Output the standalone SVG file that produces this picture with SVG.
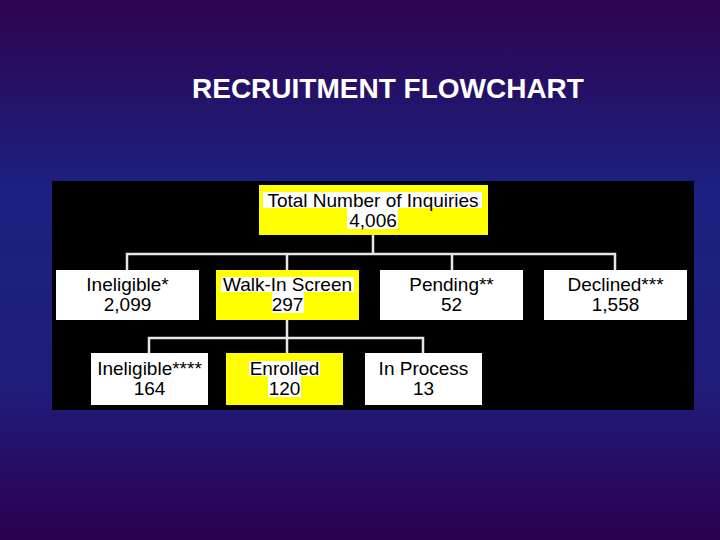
<svg xmlns="http://www.w3.org/2000/svg" width="720" height="540" viewBox="0 0 720 540">
<defs>
<linearGradient id="bg" x1="0" y1="0" x2="0" y2="1">
<stop offset="0" stop-color="#2d0450"/>
<stop offset="0.35" stop-color="#1c2080"/>
<stop offset="0.72" stop-color="#1f1c7a"/>
<stop offset="1" stop-color="#2b0050"/>
</linearGradient>
</defs>
<style>
.box{stroke:none}
.w{fill:#ffffff}
.y{fill:#ffff00}
.hl{fill:#ffffff}
.t{font-family:"Liberation Sans",Arial,sans-serif;font-size:19px;fill:#000000;text-anchor:middle}
.title{font-family:"Liberation Sans",Arial,sans-serif;font-size:28px;font-weight:bold;fill:#ffffff}
.c{stroke:#e6e6e6;stroke-width:2.5;fill:none}
</style>
<rect x="0" y="0" width="720" height="540" fill="url(#bg)"/>
<text class="title" x="192" y="98">RECRUITMENT FLOWCHART</text>
<rect x="52" y="181" width="642" height="229" fill="#000000"/>
<g id="connectors">
<path class="c" d="M373 235 V254 M127 270 V254 H615 V270 M287 254 V270 M452 254 V270"/>
<path class="c" d="M287 320 V338 M149 353 V338 H423 V353 M287 338 V353"/>
</g>
<g id="total">
<rect class="box y" x="259" y="185" width="229" height="50"/>
<rect class="hl" x="263" y="192" width="219" height="16"/>
<rect class="hl" x="347" y="208" width="51" height="21"/>
<text class="t" x="373" y="207">Total Number of Inquiries</text>
<text class="t" x="373" y="227">4,006</text>
</g>
<g id="ineligible1">
<rect class="box w" x="56" y="270" width="143" height="50"/>
<text class="t" x="127.5" y="291">Ineligible*</text>
<text class="t" x="127.5" y="311">2,099</text>
</g>
<g id="walkin">
<rect class="box y" x="216" y="270" width="143" height="50"/>
<rect class="hl" x="221" y="277" width="133" height="15"/>
<rect class="hl" x="272" y="292" width="32" height="21"/>
<text class="t" x="287.5" y="291">Walk-In Screen</text>
<text class="t" x="287.5" y="311">297</text>
</g>
<g id="pending">
<rect class="box w" x="380" y="270" width="143" height="50"/>
<text class="t" x="451.5" y="291">Pending**</text>
<text class="t" x="451.5" y="311">52</text>
</g>
<g id="declined">
<rect class="box w" x="544" y="270" width="143" height="50"/>
<text class="t" x="615.5" y="291">Declined***</text>
<text class="t" x="615.5" y="311">1,558</text>
</g>
<g id="ineligible2">
<rect class="box w" x="91" y="353" width="117" height="52"/>
<text class="t" x="149.5" y="375">Ineligible****</text>
<text class="t" x="149.5" y="395">164</text>
</g>
<g id="enrolled">
<rect class="box y" x="226" y="353" width="117" height="52"/>
<rect class="hl" x="249" y="361" width="71" height="15"/>
<rect class="hl" x="268" y="376" width="33" height="21"/>
<text class="t" x="284.5" y="375">Enrolled</text>
<text class="t" x="284.5" y="395">120</text>
</g>
<g id="inprocess">
<rect class="box w" x="365" y="353" width="117" height="52"/>
<text class="t" x="423.5" y="375">In Process</text>
<text class="t" x="423.5" y="395">13</text>
</g>
</svg>
